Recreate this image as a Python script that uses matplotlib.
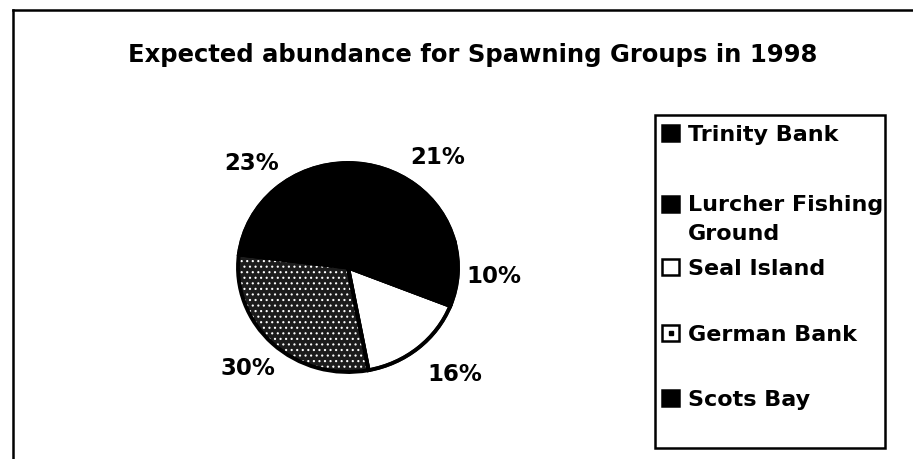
import matplotlib
matplotlib.use('Agg')
import matplotlib.pyplot as plt
from matplotlib.patches import Rectangle
from matplotlib.lines import Line2D

# data
groups = ['Trinity Bank', 'Lurcher Fishing\nGround', 'Seal Island', 'German Bank', 'Scots Bay']
shares = [21, 10, 16, 30, 23]

W, H = 913, 459
plt.rcParams['font.family'] = ['DejaVu Sans']
plt.rcParams['font.weight'] = 'bold'
plt.rcParams['hatch.linewidth'] = 0.8

fig = plt.figure(figsize=(W / 100, H / 100), dpi=100)


def fx(px):
    return px / W


def fy(py):
    return 1 - py / H


# outer frame (left and top only visible in the scan)
fig.add_artist(Line2D([fx(13), fx(13)], [fy(10), 0], color='black', lw=1.8))
fig.add_artist(Line2D([fx(13), 1], [fy(10), fy(10)], color='black', lw=1.8))

# title
fig.text(fx(473), fy(55), 'Expected abundance for Spawning Groups in 1998',
         ha='center', va='center', fontsize=17.5, fontweight='bold')

# pie
cx, cy, rx, ry = 348, 267.5, 110, 104.5
ax = fig.add_axes([fx(cx - rx), fy(cy + ry), (2 * rx) / W, (2 * ry) / H])
face = ['black', 'black', 'white', '#1c1c1c', 'black']
wedges, texts, autotexts = ax.pie(shares, colors=face, startangle=90, counterclock=False,
                                  autopct='%.0f%%', pctdistance=1.33,
                                  wedgeprops=dict(edgecolor='black', linewidth=2.5),
                                  textprops=dict(fontsize=16.5, fontweight='bold'))
# stippled pattern for German Bank
wedges[3].set_edgecolor('white')
wedges[3].set_hatch('...')
wedges[3].set_linewidth(1.0)
ax.pie(shares, colors=['none'] * 5, startangle=90, counterclock=False,
       wedgeprops=dict(edgecolor='black', linewidth=2.8, fill=False))
# the 16% label sits a little further right in the original
lx, ly = autotexts[2].get_position()
autotexts[2].set_position((lx * 1.15, ly))
ax.set_aspect('auto')
ax.set_xlim(-1, 1)
ax.set_ylim(-1, 1)
ax.axis('off')

# legend box drawn by hand to mimic the original spacing
fig.add_artist(Rectangle((fx(655), fy(448)), fx(885) - fx(655), fy(115) - fy(448),
                         transform=fig.transFigure, fill=False, edgecolor='black', lw=1.8))
entry_y = [133, 204, 267, 333, 398]
box_face = ['black', 'black', 'white', 'white', 'black']
for name, y, fc in zip(groups, entry_y, box_face):
    fig.add_artist(Rectangle((fx(662), fy(y + 8)), 17 / W, 16 / H, transform=fig.transFigure,
                             facecolor=fc, edgecolor='black', lw=1.8))
    if name == 'German Bank':
        fig.add_artist(Line2D([fx(670.5)], [fy(y)], marker='s', markersize=2.5,
                              color='black'))
    extra = name.count('\n') * 28
    fig.text(fx(688), fy(y + 8 + extra), name, ha='left', va='baseline', fontsize=16,
             fontweight='bold', linespacing=1.55)

fig.savefig('out.png', dpi=100)
